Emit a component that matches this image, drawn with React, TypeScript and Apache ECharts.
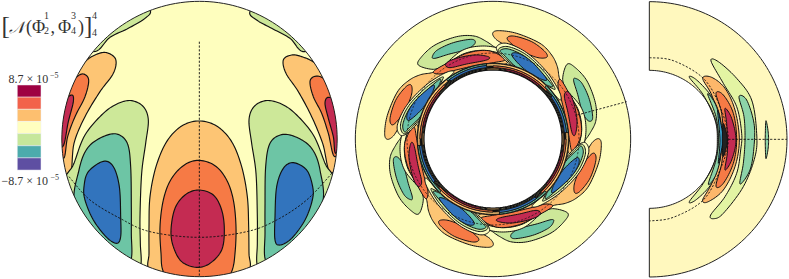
import React, { useEffect, useRef } from "react";
import * as echarts from "echarts";

type P = number[];
// ---- palettes
const cRed = "#C42B52", cOrange = "#F67A45", cLight = "#FDC574", cPale = "#FEFEBE", cGreen = "#CDE899", cTeal = "#6DC5A5", cBlue = "#3274BD";
const rBg = "#FFF8BE", rGreen = "#E3F4A3", rTeal = "#8DD4A8", rLight = "#FDB76A", rOrange = "#F67A45", rRed = "#C42B52", rBlue = "#35A0CC", rInk = "#222222";
const legendColors = ["#9E0142", "#F2624A", "#FDBF6F", "#FFFFBF", "#C6E79B", "#4CABAC", "#5E4FA2"];
const legendTop = 8.7, legendBottom = -8.7;

// ---- disc panel contours (traced, in 1/3 px)
const discShapes: [string, P[]][] = [
  [cGreen, [[450,30],[435,55],[385,85],[330,112],[280,155],[200,100],[400,-10]]],
  [cGreen, [[750,35],[770,60],[815,85],[870,115],[915,155],[1000,100],[800,-10]]],
  [cLight, [[320,158],[347,178],[340,220],[300,275],[255,350],[222,430],[207,530],[150,400],[200,250],[255,185],[290,163]]],
  [cOrange, [[250,222],[266,240],[255,290],[225,350],[203,410],[190,475],[160,400],[200,270],[228,233]]],
  [cRed, [[215,285],[220,305],[205,365],[188,440],[160,400],[190,310]]],
  [cLight, [[875,165],[850,180],[858,220],[895,275],[935,350],[968,430],[995,520],[1050,400],[1000,250],[945,190],[905,170]]],
  [cOrange, [[945,229],[930,245],[940,290],[965,340],[985,400],[1005,470],[1040,400],[1000,270],[970,235]]],
  [cRed, [[985,292],[975,310],[985,355],[1000,410],[1008,460],[1040,400],[1010,310]]],
  [cGreen, [[395,302],[430,320],[445,360],[437,430],[425,520],[420,650],[421,730],[422,798],[395,850],[300,790],[190,580],[222,490],[255,405],[310,340],[355,310]]],
  [cTeal, [[350,402],[382,430],[392,500],[394,620],[394,700],[394,775],[370,810],[300,760],[225,620],[237,510],[262,445],[305,412]]],
  [cBlue, [[310,484],[340,500],[358,560],[362,650],[362,710],[350,730],[320,712],[280,660],[255,600],[252,560],[265,515]]],
  [cGreen, [[797,302],[762,320],[747,360],[755,430],[768,520],[772,650],[772,730],[772,798],[800,850],[900,790],[1010,580],[975,490],[940,405],[885,340],[840,310]]],
  [cTeal, [[845,404],[810,430],[797,500],[795,620],[795,700],[795,775],[820,810],[880,750],[965,620],[960,510],[935,445],[890,412]]],
  [cBlue, [[880,488],[850,505],[830,560],[825,650],[825,720],[840,735],[875,715],[915,660],[937,600],[938,560],[920,510]]],
  [cLight, [[597,363],[650,378],[695,425],[725,500],[742,590],[746,680],[747,760],[748,810],[700,880],[500,880],[447,810],[447,760],[447,680],[450,590],[468,500],[500,425],[545,378]]],
  [cOrange, [[595,481],[645,497],[680,540],[700,600],[708,680],[705,760],[695,815],[660,880],[530,880],[490,815],[483,760],[480,680],[490,600],[512,540],[550,497]]],
  [cRed, [[595,570],[640,585],[665,630],[673,690],[665,750],[630,790],[590,802],[545,785],[520,740],[513,690],[525,625],[555,585]]],
];
const discDashes: P[][] = [
  [[598,125],[598,830]],
  [[207,530],[270,600],[360,655],[450,695],[598,712],[740,695],[830,660],[920,600],[1000,515]],
];

// ---- annulus panel, one period of the pattern (rotated in quarter turns)
const quarterTurns = [0, 90, 180, 270];
const annulusLayers: [string, P[]][] = [
  [cGreen, [[205,195],[215,170],[255,135],[320,110],[372,108],[410,125],[445,150],[482,178],[470,195],[420,190],[350,185],[290,195],[250,208]]],
  [cTeal, [[247,170],[262,150],[310,128],[365,118],[375,130],[350,148],[295,163],[255,175]]],
  [cPale, [[600,210],[650,270],[695,325],[708,385],[698,445],[672,478],[640,440],[625,300]]],
  [cLight, [[428,100],[445,92],[500,100],[570,130],[605,165],[622,200],[630,240],[655,280],[685,330],[695,385],[685,440],[665,465],[650,440],[640,350],[618,295],[590,245],[545,195],[500,155],[465,135],[438,118]]],
  [cOrange, [[472,118],[490,108],[545,125],[585,155],[590,172],[560,172],[510,150]]],
  [cOrange, [[250,215],[290,190],[350,160],[415,152],[465,178],[430,188],[370,198],[310,212],[270,222]]],
  [cRed, [[287,193],[310,178],[370,165],[415,170],[410,180],[350,192],[300,203]]],
  [cPale, [[440,140],[470,130],[530,158],[590,215],[628,275],[630,300],[600,270],[550,232],[490,200],[450,165]]],
  [cGreen, [[445,148],[475,140],[530,165],[585,218],[615,265],[600,262],[550,235],[495,200],[458,168]]],
  [cTeal, [[450,152],[475,147],[525,170],[578,222],[608,258],[590,255],[545,232],[495,198],[462,165]]],
  [cBlue, [[485,165],[505,160],[545,185],[590,237],[568,235],[520,205]]],
];
// a0, a1 (deg clockwise from top), r0, r1, colour
const hubBands: [number, number, number, number, string][] = [
  [-45,5,221,226,cTeal],[-36,-5,215,221,cBlue],
  [-5,52,219,226,cLight],[0,48,214,219,cOrange],[10,40,209,213,cRed],[-5,5,207,212,cLight],
];
const hubRadii = [209, 212, 215, 218, 221, 224, 227];
const annulusDashRadius = 258;
const annulusSpoke: P[] = [[682,345],[830,305]];

// ---- meridional panel contours
const sideShapes: [string, P[]][] = [
  [rGreen, [[213,183],[235,185],[290,235],[335,300],[350,400],[345,470],[310,560],[250,640],[222,656],[212,645],[255,590],[290,520],[302,450],[305,400],[290,320],[250,250]]],
  [rTeal, [[297,290],[320,300],[342,370],[342,440],[330,510],[300,552],[310,490],[315,420],[312,350]]],
  [rTeal, [[378,362],[385,400],[385,440],[378,476],[376,440],[376,400]]],
  [rLight, [[188,235],[215,232],[255,265],[285,330],[298,420],[285,500],[250,570],[205,605],[188,600],[215,550],[235,480],[240,420],[235,355],[215,285]]],
  [rOrange, [[228,280],[250,285],[280,340],[290,420],[280,490],[250,550],[228,558],[245,490],[250,420],[245,340]]],
  [rRed, [[255,325],[275,355],[288,420],[275,480],[255,510],[262,460],[262,420],[260,370]]],
  [rGreen, [[148,232],[170,240],[215,290],[240,350],[245,420],[240,480],[215,550],[170,598],[148,605],[190,550],[225,480],[232,418],[225,360],[190,285]]],
  [rTeal, [[203,282],[225,310],[240,360],[243,420],[240,480],[225,530],[205,552],[228,480],[235,418],[228,350]]],
  [rBlue, [[233,330],[248,400],[248,430],[235,490],[240,420]]],
  [rInk, [[250,370],[262,420],[250,470],[247,420]]],
];
const sideDashes: P[][] = [
  [[28,173],[100,182],[190,235],[240,320],[265,418],[240,510],[190,600],[100,652],[28,663]],
  [[265,418],[441,418]],
];

// ---- panel geometry (in 1/3 px, crop-relative)
const discOrigin = [0, 0], discC = [598.5, 417], discR = 413;
const annOrigin = [350, 0], annC = [429, 417], annR = 413, annHole = 207;
const sideOrigin = [640, 0], sideC = [28, 418], sideR = 413, sideHole = 207;

function spline(pts: P[], closed: boolean, n = 10): P[] {
  const out: P[] = [];
  const L = pts.length;
  const at = (i: number) => (closed ? pts[(i + L) % L] : pts[Math.max(0, Math.min(L - 1, i))]);
  const segs = closed ? L : L - 1;
  for (let i = 0; i < segs; i++) {
    const [p0, p1, p2, p3] = [at(i - 1), at(i), at(i + 1), at(i + 2)];
    for (let k = 0; k < n; k++) {
      const t = k / n;
      const f = (a: number, b: number, c: number, d: number) =>
        0.5 * (2 * b + (c - a) * t + (2 * a - 5 * b + 4 * c - d) * t * t + (3 * b - a - 3 * c + d) * t * t * t);
      out.push([f(p0[0], p1[0], p2[0], p3[0]), f(p0[1], p1[1], p2[1], p3[1])]);
    }
  }
  if (!closed) out.push(pts[L - 1]);
  return out;
}
const toPage = (o: number[]) => (p: P): P => [o[0] + p[0] / 3, o[1] + p[1] / 3];
const rotate = (c: number[], deg: number) => (p: P): P => {
  const a = (deg * Math.PI) / 180, dx = p[0] - c[0], dy = p[1] - c[1];
  return [c[0] + dx * Math.cos(a) - dy * Math.sin(a), c[1] + dx * Math.sin(a) + dy * Math.cos(a)];
};
const arcPts = (c: number[], r: number, a0: number, a1: number, n = 48): P[] =>
  Array.from({ length: n + 1 }, (_, i) => {
    const a = ((a0 + ((a1 - a0) * i) / n - 90) * Math.PI) / 180;
    return [c[0] + r * Math.cos(a), c[1] + r * Math.sin(a)];
  });

type Item = { pts: P[]; fill?: string; stroke?: string; lw?: number; dash?: number[]; closed: boolean; clip?: number[] };
const items: Item[] = [];
const pageCircle = (o: number[], c: number[], r: number) => toPage(o)([c[0], c[1]]).concat(r / 3);
const ink = "#111", contourW = 1.15;

// disc
{
  const tp = toPage(discOrigin), clip = pageCircle(discOrigin, discC, discR);
  items.push({ pts: arcPts(discC, discR, 0, 360, 180).map(tp), fill: cPale, closed: true });
  discShapes.forEach(([col, p]) => items.push({ pts: spline(p, true).map(tp), fill: col, stroke: ink, lw: contourW, closed: true, clip }));
  discDashes.forEach((p) => items.push({ pts: spline(p, false).map(tp), stroke: ink, lw: 0.9, dash: [2.2, 1.6], closed: false, clip }));
  items.push({ pts: arcPts(discC, discR, 0, 360, 180).map(tp), stroke: "#222", lw: 1, closed: true });
}
// annulus
{
  const tp = toPage(annOrigin);
  items.push({ pts: arcPts(annC, annR, 0, 360, 180).map(tp), fill: cPale, stroke: "#222", lw: 1, closed: true });
  annulusLayers.forEach(([col, p]) =>
    quarterTurns.forEach((t) => items.push({ pts: spline(p, true).map(rotate(annC, t)).map(tp), fill: col, stroke: ink, lw: 1, closed: true })));
  items.push({ pts: arcPts(annC, annulusDashRadius, 0, 360, 180).map(tp), stroke: ink, lw: 0.7, dash: [2.2, 1.6], closed: true });
  items.push({ pts: annulusSpoke.map(tp), stroke: ink, lw: 0.9, dash: [2.2, 1.6], closed: false });
  items.push({ pts: arcPts(annC, 228, 0, 360, 180).map(tp), fill: cPale, closed: true });
  hubRadii.forEach((r) => items.push({ pts: arcPts(annC, r, 0, 360, 180).map(tp), stroke: ink, lw: 1.2, closed: true }));
  quarterTurns.forEach((t) =>
    hubBands.forEach(([a0, a1, r0, r1, col]) =>
      items.push({ pts: [...arcPts(annC, r1, a0 + t, a1 + t), ...arcPts(annC, r0, a1 + t, a0 + t)].map(tp), fill: col, stroke: ink, lw: 0.9, closed: true })));
  items.push({ pts: arcPts(annC, annHole, 0, 360, 180).map(tp), fill: "#FFFFFF", stroke: ink, lw: 1.2, closed: true });
}
// meridional slice
{
  const tp = toPage(sideOrigin);
  const outline = [...arcPts(sideC, sideR, 0, 180, 120), ...arcPts(sideC, sideHole, 180, 0, 120)].map(tp);
  items.push({ pts: outline, fill: rBg, closed: true });
  sideShapes.forEach(([col, p]) => items.push({ pts: spline(p, true).map(tp), fill: col, stroke: ink, lw: 1, closed: true }));
  sideDashes.forEach((p) => items.push({ pts: spline(p, false).map(tp), stroke: ink, lw: 0.9, dash: [2.2, 1.6], closed: false }));
  items.push({ pts: outline, stroke: "#222", lw: 1, closed: true });
}
// colour bar
const barX0 = 17.3, barX1 = 41, barY0 = 85, barStep = 12.15;
legendColors.forEach((c, i) =>
  items.push({ pts: [[barX0, barY0 + i * barStep], [barX1, barY0 + i * barStep], [barX1, barY0 + (i + 1) * barStep], [barX0, barY0 + (i + 1) * barStep]], fill: c, stroke: "#EEEEF4", lw: 0.5, closed: true }));

const SERIF = '"Liberation Serif", serif';
const txt = (x: number, y: number, text: string, size: number, extra: any = {}) => ({
  type: "text", x, y, silent: true,
  style: { text, fontSize: size, fontFamily: SERIF, fill: "#333", verticalAlign: "middle", ...extra },
});
const expLabel = (v: number) => `${v < 0 ? "−" : ""}${Math.abs(v)} × 10`;

export default function App() {
  const ref = useRef<HTMLDivElement>(null);
  useEffect(() => {
    document.body.style.margin = "0";
    const chart = echarts.init(ref.current!, undefined, { renderer: "svg" });
    chart.setOption({
      animation: false,
      grid: { left: 0, right: 0, top: 0, bottom: 0 },
      xAxis: { type: "value", min: 0, max: 789, show: false },
      yAxis: { type: "value", min: 0, max: 279, inverse: true, show: false },
      series: [{
        type: "custom", coordinateSystem: "cartesian2d", clip: false, silent: true,
        data: items.map((_, i) => [i]),
        renderItem: (params: any, api: any) => {
          const it = items[params.dataIndex];
          const points = it.pts.map((p) => api.coord(p));
          const el: any = {
            type: it.closed ? "polygon" : "polyline",
            shape: { points },
            style: { fill: it.fill ?? "none", stroke: it.stroke ?? "none", lineWidth: it.lw ?? 0, lineDash: it.dash, lineJoin: "round" },
          };
          if (it.clip) el.clipPath = { type: "circle", shape: { cx: it.clip[0], cy: it.clip[1], r: it.clip[2] } };
          return el;
        },
      }],
      graphic: [
        txt(1.5, 25, "[", 25),
        txt(9, 27, "𝒩", 16.5, { fontFamily: '"DejaVu Serif", "Noto Sans", serif', fontStyle: "italic" }),
        txt(26, 27, "(Φ", 18),
        txt(44, 15.5, "1", 10), txt(44, 30.5, "2", 10),
        txt(50.5, 27, ",", 18),
        txt(58, 27, "Φ", 18),
        txt(71, 15.5, "3", 10), txt(71, 30.5, "4", 10),
        txt(78, 27, ")", 18),
        txt(84, 25, "]", 25),
        txt(92, 15.5, "4", 10), txt(92, 32, "4", 10),
        txt(8.5, 78.5, expLabel(legendTop), 12),
        txt(50, 75, "−5", 8),
        txt(1.5, 181, expLabel(legendBottom), 12),
        txt(50.5, 177.5, "−5", 8),
      ],
    });
    return () => chart.dispose();
  }, []);
  return <div ref={ref} style={{ position: "absolute", left: 0, top: 0, width: 789, height: 279 }} />;
}
